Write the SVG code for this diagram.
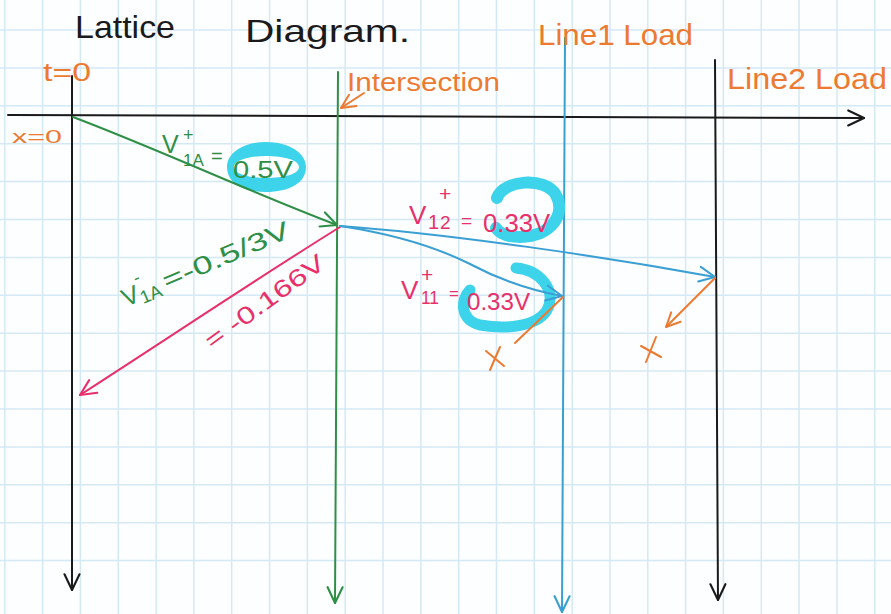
<svg xmlns="http://www.w3.org/2000/svg" width="891" height="614" viewBox="0 0 891 614">
<style>
.grid line{stroke:#d4e9f4;stroke-width:1.5}
text{font-family:"Liberation Sans","DejaVu Sans",sans-serif}
.ink{fill:none;stroke-linecap:round;stroke-linejoin:round}
.blk{stroke:#1a1a1a;stroke-width:2}
.grn{stroke:#2f8f46;stroke-width:2}
.blu{stroke:#3a9fd2;stroke-width:2}
.pnk{stroke:#e8306a;stroke-width:2}
.org{stroke:#ec7a30;stroke-width:2}
.tb{fill:#1a1a1a}
.to{fill:#ec7a30}
.tg{fill:#2f8f46}
.tp{fill:#e8306a}
.hl{fill:none;stroke:#3dd3ea;stroke-linecap:round}
</style>
<defs>
<marker id="aK" viewBox="0 0 12 12" refX="11.5" refY="6" markerWidth="18" markerHeight="18" markerUnits="userSpaceOnUse" orient="auto"><path d="M1,1 L11.5,6 L1,11" fill="none" stroke="#1a1a1a" stroke-width="1.4" stroke-linecap="round" stroke-linejoin="round"/></marker>
<marker id="aG" viewBox="0 0 12 12" refX="11.5" refY="6" markerWidth="18" markerHeight="18" markerUnits="userSpaceOnUse" orient="auto"><path d="M1,1 L11.5,6 L1,11" fill="none" stroke="#2f8f46" stroke-width="1.4" stroke-linecap="round" stroke-linejoin="round"/></marker>
<marker id="aB" viewBox="0 0 12 12" refX="11.5" refY="6" markerWidth="18" markerHeight="18" markerUnits="userSpaceOnUse" orient="auto"><path d="M1,1 L11.5,6 L1,11" fill="none" stroke="#3a9fd2" stroke-width="1.4" stroke-linecap="round" stroke-linejoin="round"/></marker>
<marker id="aP" viewBox="0 0 12 12" refX="11.5" refY="6" markerWidth="18" markerHeight="18" markerUnits="userSpaceOnUse" orient="auto"><path d="M1,1 L11.5,6 L1,11" fill="none" stroke="#e8306a" stroke-width="1.4" stroke-linecap="round" stroke-linejoin="round"/></marker>
<marker id="aO" viewBox="0 0 12 12" refX="11.5" refY="6" markerWidth="16" markerHeight="16" markerUnits="userSpaceOnUse" orient="auto"><path d="M1,1 L11.5,6 L1,11" fill="none" stroke="#ec7a30" stroke-width="1.5" stroke-linecap="round" stroke-linejoin="round"/></marker>
</defs>
<rect width="891" height="614" fill="#fdfeff"/>
<g class="grid">
<line x1="4.8" y1="0" x2="4.8" y2="614"/><line x1="42.6" y1="0" x2="42.6" y2="614"/><line x1="80.4" y1="0" x2="80.4" y2="614"/><line x1="118.3" y1="0" x2="118.3" y2="614"/><line x1="156.1" y1="0" x2="156.1" y2="614"/><line x1="193.9" y1="0" x2="193.9" y2="614"/><line x1="231.7" y1="0" x2="231.7" y2="614"/><line x1="269.6" y1="0" x2="269.6" y2="614"/><line x1="307.4" y1="0" x2="307.4" y2="614"/><line x1="345.2" y1="0" x2="345.2" y2="614"/><line x1="383" y1="0" x2="383" y2="614"/><line x1="420.9" y1="0" x2="420.9" y2="614"/><line x1="458.7" y1="0" x2="458.7" y2="614"/><line x1="496.5" y1="0" x2="496.5" y2="614"/><line x1="534.3" y1="0" x2="534.3" y2="614"/><line x1="572.2" y1="0" x2="572.2" y2="614"/><line x1="610" y1="0" x2="610" y2="614"/><line x1="647.8" y1="0" x2="647.8" y2="614"/><line x1="685.6" y1="0" x2="685.6" y2="614"/><line x1="723.4" y1="0" x2="723.4" y2="614"/><line x1="761.3" y1="0" x2="761.3" y2="614"/><line x1="799.1" y1="0" x2="799.1" y2="614"/><line x1="837" y1="0" x2="837" y2="614"/><line x1="874.8" y1="0" x2="874.8" y2="614"/>
<line x1="0" y1="30" x2="891" y2="30"/><line x1="0" y1="67.9" x2="891" y2="67.9"/><line x1="0" y1="105.8" x2="891" y2="105.8"/><line x1="0" y1="143.7" x2="891" y2="143.7"/><line x1="0" y1="181.6" x2="891" y2="181.6"/><line x1="0" y1="219.5" x2="891" y2="219.5"/><line x1="0" y1="257.4" x2="891" y2="257.4"/><line x1="0" y1="295.3" x2="891" y2="295.3"/><line x1="0" y1="333.2" x2="891" y2="333.2"/><line x1="0" y1="371.1" x2="891" y2="371.1"/><line x1="0" y1="409" x2="891" y2="409"/><line x1="0" y1="446.9" x2="891" y2="446.9"/><line x1="0" y1="484.8" x2="891" y2="484.8"/><line x1="0" y1="522.7" x2="891" y2="522.7"/><line x1="0" y1="560.6" x2="891" y2="560.6"/>
</g>

<g id="title">
<text x="75" y="38" font-size="32" class="tb" textLength="100" lengthAdjust="spacingAndGlyphs">Lattice</text>
<text x="245" y="42" font-size="32" class="tb" textLength="165" lengthAdjust="spacingAndGlyphs">Diagram.</text>
</g>

<g id="x-axis">
<path class="ink blk" d="M8,115 L864,118" marker-end="url(#aK)"/>
<text x="12" y="143" font-size="19" class="to" textLength="50" lengthAdjust="spacingAndGlyphs">x=0</text>
</g>

<g id="t0-line">
<path class="ink blk" d="M72,76 L72,590" marker-end="url(#aK)"/>
<text x="43" y="81" font-size="25" class="to" textLength="48" lengthAdjust="spacingAndGlyphs">t=0</text>
</g>

<g id="intersection">
<path class="ink grn" d="M338,72 L335,603" marker-end="url(#aG)"/>
<text x="347" y="91" font-size="26" class="to" textLength="153" lengthAdjust="spacingAndGlyphs">Intersection</text>
<path class="ink org" d="M364,93 L341,108" marker-end="url(#aO)"/>
</g>

<g id="line1-load">
<path class="ink blu" d="M565,38 L562,612" marker-end="url(#aB)"/>
<text x="538" y="45" font-size="29" class="to" textLength="155" lengthAdjust="spacingAndGlyphs">Line1 Load</text>
</g>

<g id="line2-load">
<path class="ink blk" d="M715,60 L718,600" marker-end="url(#aK)"/>
<text x="727" y="89" font-size="29" class="to" textLength="160" lengthAdjust="spacingAndGlyphs">Line2 Load</text>
</g>

<g id="highlights">
<path d="M266,142 C289,142 306,153 306,167 C306,183 289,192 266,192 C243,192 227,183 227,167 C227,153 243,142 266,142 Z M266,156 C249,156 234,160 234,167 C234,174 249,178 266,178 C284,178 299,174 299,167 C299,160 284,156 266,156 Z" fill="#3dd3ea" fill-rule="evenodd"/>
<path class="hl" stroke-width="12" d="M497,198 C503,180 545,176 556,195 C566,214 552,236 520,237 C508,237 500,234 496,228"/>
<path class="hl" stroke-width="11" d="M516,268 C540,270 556,290 548,308 C540,326 508,330 480,325 C460,320 460,300 470,290"/>
</g>

<g id="connectors">
<path class="ink grn" d="M73,117 C160,150 250,192 337,225" marker-end="url(#aG)"/>
<path class="ink pnk" d="M340,227 C250,283 170,337 80,395" marker-end="url(#aP)"/>
<path class="ink blu" d="M340,226 C450,234 600,256 715,277" marker-end="url(#aB)"/>
<path class="ink blu" d="M340,226 C380,232 430,244 470,264 C500,280 530,290 562,296" marker-end="url(#aB)"/>
<path class="ink org" d="M563,297 L515,343"/>
<path class="ink org" d="M486,351 L504,366 M500,347 L490,370"/>
<path class="ink org" d="M715,278 L666,327" marker-end="url(#aO)"/>
<path class="ink org" d="M641,346 L661,357 M656,337 L646,362"/>
</g>

<g id="labels">
<text x="162" y="153" font-size="25" class="tg">V</text>
<text x="183" y="166" font-size="17" class="tg">1A</text>
<text x="183" y="141" font-size="18" class="tg">+</text>
<text x="211" y="163" font-size="20" class="tg">=</text>
<text x="233" y="178" font-size="24" class="tg" textLength="60" lengthAdjust="spacingAndGlyphs">0.5V</text>

<g transform="translate(126,307) rotate(-23)">
<text x="0" y="0" font-size="25" class="tg">V</text>
<text x="17" y="4" font-size="18" class="tg">1A</text>
<text x="18" y="-17" font-size="18" class="tg">-</text>
<text x="44" y="0" font-size="25" class="tg" textLength="136" lengthAdjust="spacingAndGlyphs">=-0.5/3V</text>
</g>
<g transform="translate(212,350) rotate(-36)">
<text x="0" y="0" font-size="24" class="tp" textLength="142" lengthAdjust="spacingAndGlyphs">= -0.166V</text>
</g>

<text x="409" y="224" font-size="26" class="tp">V</text>
<text x="428" y="229" font-size="20" class="tp">1</text>
<text x="440" y="229" font-size="19" class="tp">2</text>
<text x="439" y="201" font-size="21" class="tp">+</text>
<text x="461" y="227" font-size="19" class="tp">=</text>
<text x="483" y="232" font-size="25" class="tp" textLength="67" lengthAdjust="spacingAndGlyphs">0.33V</text>

<text x="401" y="299" font-size="26" class="tp">V</text>
<text x="421" y="304" font-size="19" class="tp" textLength="18" lengthAdjust="spacingAndGlyphs">11</text>
<text x="421" y="282" font-size="21" class="tp">+</text>
<text x="449" y="299" font-size="17" class="tp">=</text>
<text x="467" y="310" font-size="23" class="tp" textLength="63" lengthAdjust="spacingAndGlyphs">0.33V</text>
</g>
</svg>
